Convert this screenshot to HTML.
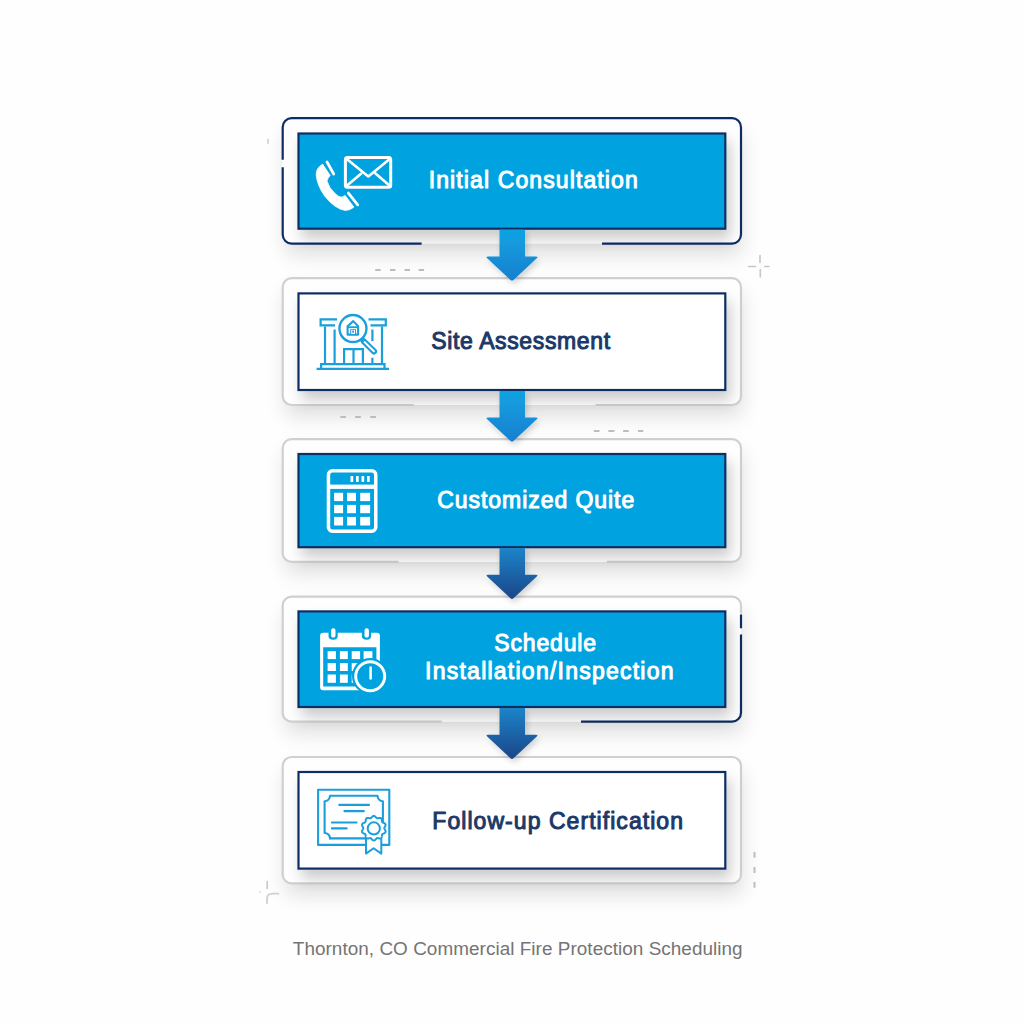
<!DOCTYPE html>
<html><head><meta charset="utf-8">
<style>
html,body{margin:0;padding:0;background:#fefefe;}
svg{display:block;}
text{font-family:"Liberation Sans",sans-serif;}
</style></head>
<body>
<svg width="1024" height="1024" viewBox="0 0 1024 1024">
<defs>
  <filter id="osh" x="-20%" y="-30%" width="140%" height="170%">
    <feGaussianBlur in="SourceAlpha" stdDeviation="10"/>
    <feOffset dx="2" dy="12" result="b"/>
    <feComponentTransfer><feFuncA type="linear" slope="0.12"/></feComponentTransfer>
    <feMerge><feMergeNode/><feMergeNode in="SourceGraphic"/></feMerge>
  </filter>
  <filter id="ish" x="-20%" y="-30%" width="140%" height="190%">
    <feGaussianBlur in="SourceAlpha" stdDeviation="7"/>
    <feOffset dx="4" dy="9" result="b"/>
    <feComponentTransfer><feFuncA type="linear" slope="0.2"/></feComponentTransfer>
    <feMerge><feMergeNode/><feMergeNode in="SourceGraphic"/></feMerge>
  </filter>
  <filter id="ash" x="-50%" y="-30%" width="200%" height="170%">
    <feGaussianBlur in="SourceAlpha" stdDeviation="3"/>
    <feOffset dx="2" dy="3" result="b"/>
    <feComponentTransfer><feFuncA type="linear" slope="0.18"/></feComponentTransfer>
    <feMerge><feMergeNode/><feMergeNode in="SourceGraphic"/></feMerge>
  </filter>
  <linearGradient id="ga1" x1="0" y1="0" x2="0" y2="1">
    <stop offset="0" stop-color="#10a3e2"/><stop offset="1" stop-color="#1a7fcf"/>
  </linearGradient>
  <linearGradient id="ga3" x1="0" y1="0" x2="0" y2="1">
    <stop offset="0" stop-color="#1a84c8"/><stop offset="1" stop-color="#1a4589"/>
  </linearGradient>
</defs>

<!-- ===== outer frames (white bg with shadow) ===== -->
<g filter="url(#osh)" fill="#fefefe">
  <rect x="282.7" y="118.2" width="458.3" height="125.4" rx="9"/>
  <rect x="282.7" y="278.2" width="458.3" height="126.8" rx="9"/>
  <rect x="282.7" y="439.1" width="458.3" height="122.8" rx="9"/>
  <rect x="282.7" y="596.7" width="458.3" height="125" rx="9"/>
  <rect x="282.7" y="757" width="458.3" height="126.4" rx="9"/>
</g>

<!-- ===== outer frame strokes ===== -->
<g fill="none" stroke-width="2.2" stroke-linecap="butt">
  <!-- box1 navy -->
  <path stroke="#0c2d62" d="M282.7 167.2 L282.7 234.6 A9 9 0 0 0 291.7 243.6 L421.6 243.6"/>
  <path stroke="#0c2d62" d="M602 243.6 L732 243.6 A9 9 0 0 0 741 234.6 L741 127.2 A9 9 0 0 0 732 118.2 L291.7 118.2 A9 9 0 0 0 282.7 127.2 L282.7 159.7"/>
  <!-- box2 grey -->
  <path stroke="#d0d0d0" d="M413.8 405 L291.7 405 A9 9 0 0 1 282.7 396 L282.7 287.2 A9 9 0 0 1 291.7 278.2 L732 278.2 A9 9 0 0 1 741 287.2 L741 396 A9 9 0 0 1 732 405 L595.6 405"/>
  <!-- box3 grey -->
  <path stroke="#d0d0d0" d="M398.6 561.9 L291.7 561.9 A9 9 0 0 1 282.7 552.9 L282.7 448.1 A9 9 0 0 1 291.7 439.1 L732 439.1 A9 9 0 0 1 741 448.1 L741 552.9 A9 9 0 0 1 732 561.9 L606.9 561.9"/>
  <!-- box4 grey + navy -->
  <path stroke="#d0d0d0" d="M441.7 721.7 L291.7 721.7 A9 9 0 0 1 282.7 712.7 L282.7 605.7 A9 9 0 0 1 291.7 596.7 L732 596.7 A9 9 0 0 1 741 605.7 L741 613.5"/>
  <path stroke="#0c2d62" d="M741 614.6 L741 628.3 M741 634.5 L741 712.7 A9 9 0 0 1 732 721.7 L581 721.7"/>
  <!-- box5 grey -->
  <rect stroke="#d0d0d0" x="282.7" y="757" width="458.3" height="126.4" rx="9"/>
</g>

<!-- ===== inner boxes ===== -->
<g filter="url(#ish)" stroke="#0c2d62" stroke-width="2.2">
  <rect x="298.5" y="133.5" width="426.8" height="95.2" fill="#04a3df"/>
  <rect x="298.5" y="293.4" width="426.8" height="96.6" fill="#ffffff"/>
  <rect x="298.5" y="454" width="426.8" height="93.2" fill="#04a3df"/>
  <rect x="298.5" y="611.4" width="426.8" height="95.6" fill="#04a3df"/>
  <rect x="298.5" y="772" width="426.8" height="96.6" fill="#ffffff"/>
</g>

<!-- ===== arrows ===== -->
<g filter="url(#ash)">
<path fill="url(#ga1)" d="M499.5 229.7 H525 V256.5 H536 Q538.5 256.5 536.8 258.3 L513.5 280 Q512 281.2 510.5 280 L487.2 258.3 Q485.5 256.5 488 256.5 H499.5 Z"/>
<path fill="url(#ga1)" d="M499.5 391 H525 V417.5 H536 Q538.5 417.5 536.8 419.3 L513.5 441 Q512 442.2 510.5 441 L487.2 419.3 Q485.5 417.5 488 417.5 H499.5 Z"/>
<path fill="url(#ga3)" d="M499.5 548 H525 V574.7 H536 Q538.5 574.7 536.8 576.5 L513.5 598.3 Q512 599.5 510.5 598.3 L487.2 576.5 Q485.5 574.7 488 574.7 H499.5 Z"/>
<path fill="url(#ga3)" d="M499.5 708 H525 V734.7 H536 Q538.5 734.7 536.8 736.5 L513.5 758.3 Q512 759.5 510.5 758.3 L487.2 736.5 Q485.5 734.7 488 734.7 H499.5 Z"/>

</g>

<!-- ===== icon 1: phone + envelope ===== -->
<g fill="#ffffff" stroke="#ffffff" stroke-width="0.8" stroke-linejoin="round">
  <path d="M322.6 164.1 L330.2 175.5 Q328 177.5 327 180.8 Q329 188 334.6 193.1 Q338.5 197.5 341.9 197.2 L345.1 195.4 L353.9 207.1 Q350 210.6 345.1 210.4 Q335 209 324.6 196 Q317 185 316.2 174.9 Q316 168 322.6 164.1 Z"/>
</g>
<g fill="none" stroke="#ffffff" stroke-linecap="round" stroke-linejoin="round">
  <path stroke-width="2.8" d="M327 162 L333.7 174 M348.4 193.1 L357.7 204.8"/>
  <rect stroke-width="3" x="345.4" y="157.4" width="45.3" height="29.8" rx="2"/>
  <path stroke-width="2.6" d="M348 160 L368.3 176.4 L388.5 160 M347 185.5 L361 173.8 M375.5 173.5 L389.5 185.5"/>
</g>

<!-- ===== icon 2: building + magnifier ===== -->
<g fill="none" stroke="#1a9fdc" stroke-width="2.2" stroke-linecap="butt">
  <path d="M337 319.3 H320.6 V325.4 H335"/>
  <path d="M368.5 319.3 H385.8 V325.4 H370.5"/>
  <path d="M325 326.5 V363.5 M334.6 329.6 V363.5 M382 326.5 V363.5 M372.4 329.6 V341 M372.4 357.7 V363.5"/>
  <path d="M344.1 363.5 V349.1 H362.9 V363.5 M353.5 349.1 V363.5"/>
  <path d="M321.1 368.2 V364.1 H384.5 V368.2"/>
  <path d="M316.6 368.8 H389.1"/>
  <circle cx="352.95" cy="328.55" r="13.5" stroke-width="2.4"/>
  <path d="M363.8 341.3 L374.1 351.5" stroke-width="6" stroke-linecap="round"/>
</g>
<path d="M364.6 342.1 L373.9 351.3" stroke="#ffffff" stroke-width="2" stroke-linecap="round"/>
<g fill="none" stroke="#1a9fdc" stroke-width="2.1" stroke-linejoin="round">
  <path d="M353.3 321.1 L347.6 326.2 V334.6 H358.1 V326.2 Z"/>
  <path d="M347.6 327.2 H358.1" stroke-width="1.8"/>
</g>
<path fill="#1a9fdc" d="M350.2 329.2 H356 V334 H350.2 Z"/>
<path fill="#ffffff" d="M351.2 330 H355 V334 H351.2 Z"/>
<path fill="#1a9fdc" d="M352.3 330.4 H354 V332.8 H352.3 Z"/>

<!-- ===== icon 3: calculator ===== -->
<g fill="none" stroke="#ffffff">
  <rect stroke-width="3.5" x="328.45" y="470.75" width="47.3" height="60.5" rx="4"/>
</g>
<g fill="#ffffff">
  <rect x="328.5" y="484.6" width="47" height="4.3"/>
  <rect x="350.5" y="476" width="2.7" height="5.9"/>
  <rect x="356" y="476" width="2.7" height="5.9"/>
  <rect x="361.5" y="476" width="2.7" height="5.9"/>
  <rect x="367" y="476" width="2.7" height="5.9"/>
  <rect x="334.1" y="492.8" width="9" height="8.3"/>
  <rect x="347" y="492.8" width="9" height="8.3"/>
  <rect x="360.2" y="492.8" width="9.9" height="8.3"/>
  <rect x="334.1" y="504.9" width="9" height="8.3"/>
  <rect x="347" y="504.9" width="9" height="8.3"/>
  <rect x="360.2" y="504.9" width="9.9" height="8.3"/>
  <rect x="334.1" y="516.9" width="9" height="8.6"/>
  <rect x="347" y="516.9" width="9" height="8.6"/>
  <rect x="360.2" y="516.9" width="9.9" height="8.6"/>
</g>

<!-- ===== icon 4: calendar + clock ===== -->
<defs>
  <clipPath id="calclip"><path d="M300 620 H400 V700 H300 Z M370.2 676.2 m-18.2 0 a18.2 18.2 0 1 0 36.4 0 a18.2 18.2 0 1 0 -36.4 0 Z" clip-rule="evenodd"/></clipPath>
</defs>
<g clip-path="url(#calclip)" fill="#ffffff">
  <path fill-rule="evenodd" d="M323.1 632.7 H376.9 Q379.9 632.7 379.9 635.7 V690.3 H323.1 Q320.1 690.3 320.1 687.3 V635.7 Q320.1 632.7 323.1 632.7 Z M323.2 647.2 V686.4 H376.4 V647.2 Z"/>
  <rect x="327.6" y="651.2" width="8.3" height="7.9"/>
  <rect x="339.9" y="651.2" width="7.9" height="7.9"/>
  <rect x="351.7" y="651.2" width="8.4" height="7.9"/>
  <rect x="363.6" y="651.2" width="8.8" height="7.9"/>
  <rect x="327.6" y="663.1" width="8.3" height="7.9"/>
  <rect x="339.9" y="663.1" width="7.9" height="7.9"/>
  <rect x="351.7" y="663.1" width="8.4" height="7.9"/>
  <rect x="363.6" y="663.1" width="8.8" height="7.9"/>
  <rect x="327.6" y="674.5" width="8.3" height="8.3"/>
  <rect x="339.9" y="674.5" width="7.9" height="8.3"/>
  <rect x="351.7" y="674.5" width="8.4" height="8.3"/>
  <rect x="363.6" y="674.5" width="8.8" height="8.3"/>
</g>
<g fill="#04a3df">
  <path d="M328.5 632 V636 Q328.5 639.8 333.3 639.8 Q337.7 639.8 337.7 636 V632 Z"/>
  <path d="M361.9 632 V636 Q361.9 639.8 366.7 639.8 Q371.1 639.8 371.1 636 V632 Z"/>
</g>
<g fill="#ffffff">
  <rect x="331.1" y="628.3" width="4.4" height="9.3" rx="2.2"/>
  <rect x="364.5" y="628.3" width="4.4" height="9.3" rx="2.2"/>
</g>
<circle cx="370.2" cy="676.2" r="14.5" fill="none" stroke="#ffffff" stroke-width="3"/>
<path d="M370.6 667.5 V678.4" stroke="#ffffff" stroke-width="2.5" stroke-linecap="round"/>

<!-- ===== icon 5: certificate ===== -->
<g fill="none" stroke="#1a9fdc" stroke-width="2.1" stroke-linecap="round" stroke-linejoin="round">
  <path d="M365.5 844.9 H318.1 V789.8 H389.3 V844.9 H382"/>
  <path d="M330 795.8 H377.5 A5.4 5.4 0 0 0 382.9 801.2 V833 A5.4 5.4 0 0 0 377.5 838.4 H365 M330 838.4 A5.4 5.4 0 0 0 324.6 833 V801.2 A5.4 5.4 0 0 0 330 795.8"/>
  <path d="M330 838.4 H364"/>
  <path d="M339.3 804.9 H369 M344.4 811.1 H363.9 M331.9 822.5 H356.5 M331.9 828.4 H346.7"/>
</g>
<g>
  <path d="M366 838.5 V853.6 L373.6 848.2 L381.3 853.6 V838.5" fill="#ffffff" stroke="#1a9fdc" stroke-width="2" stroke-linejoin="round"/>
  <path fill="#ffffff" stroke="#1a9fdc" stroke-width="2" d="M373.80 815.90 L374.06 815.92 L374.31 815.99 L374.56 816.10 L374.80 816.24 L375.04 816.41 L375.26 816.61 L375.48 816.83 L375.69 817.05 L375.88 817.28 L376.08 817.49 L376.27 817.69 L376.45 817.86 L376.64 818.01 L376.84 818.13 L377.04 818.21 L377.26 818.27 L377.49 818.29 L377.73 818.28 L377.98 818.25 L378.25 818.20 L378.54 818.14 L378.83 818.07 L379.13 818.01 L379.43 817.97 L379.73 817.94 L380.02 817.93 L380.30 817.96 L380.56 818.02 L380.81 818.12 L381.03 818.25 L381.22 818.42 L381.39 818.62 L381.53 818.86 L381.64 819.11 L381.73 819.39 L381.79 819.69 L381.84 819.99 L381.88 820.29 L381.91 820.59 L381.94 820.87 L381.97 821.14 L382.02 821.40 L382.09 821.63 L382.18 821.84 L382.29 822.03 L382.44 822.20 L382.61 822.35 L382.81 822.48 L383.04 822.61 L383.28 822.73 L383.55 822.84 L383.82 822.96 L384.10 823.09 L384.37 823.23 L384.63 823.38 L384.86 823.55 L385.08 823.74 L385.26 823.94 L385.40 824.16 L385.50 824.40 L385.56 824.65 L385.57 824.91 L385.55 825.18 L385.49 825.46 L385.39 825.74 L385.27 826.01 L385.13 826.28 L384.98 826.55 L384.83 826.81 L384.69 827.06 L384.56 827.30 L384.45 827.53 L384.37 827.76 L384.32 827.98 L384.30 828.20 L384.32 828.42 L384.37 828.64 L384.45 828.87 L384.56 829.10 L384.69 829.34 L384.83 829.59 L384.98 829.85 L385.13 830.12 L385.27 830.39 L385.39 830.66 L385.49 830.94 L385.55 831.22 L385.57 831.49 L385.56 831.75 L385.50 832.00 L385.40 832.24 L385.26 832.46 L385.08 832.66 L384.86 832.85 L384.63 833.02 L384.37 833.17 L384.10 833.31 L383.82 833.44 L383.55 833.56 L383.28 833.68 L383.04 833.79 L382.81 833.92 L382.61 834.05 L382.44 834.20 L382.29 834.37 L382.18 834.56 L382.09 834.77 L382.02 835.00 L381.97 835.26 L381.94 835.53 L381.91 835.81 L381.88 836.11 L381.84 836.41 L381.79 836.71 L381.73 837.01 L381.64 837.29 L381.53 837.54 L381.39 837.78 L381.22 837.98 L381.03 838.15 L380.81 838.28 L380.56 838.38 L380.30 838.44 L380.02 838.47 L379.73 838.46 L379.43 838.43 L379.13 838.39 L378.83 838.33 L378.54 838.26 L378.25 838.20 L377.98 838.15 L377.73 838.12 L377.49 838.11 L377.26 838.13 L377.04 838.19 L376.84 838.27 L376.64 838.39 L376.45 838.54 L376.27 838.71 L376.08 838.91 L375.88 839.12 L375.69 839.35 L375.48 839.57 L375.26 839.79 L375.04 839.99 L374.80 840.16 L374.56 840.30 L374.31 840.41 L374.06 840.48 L373.80 840.50 L373.54 840.48 L373.29 840.41 L373.04 840.30 L372.80 840.16 L372.56 839.99 L372.34 839.79 L372.12 839.57 L371.91 839.35 L371.72 839.12 L371.52 838.91 L371.33 838.71 L371.15 838.54 L370.96 838.39 L370.76 838.27 L370.56 838.19 L370.34 838.13 L370.11 838.11 L369.87 838.12 L369.62 838.15 L369.35 838.20 L369.06 838.26 L368.77 838.33 L368.47 838.39 L368.17 838.43 L367.88 838.46 L367.58 838.47 L367.30 838.44 L367.04 838.38 L366.79 838.28 L366.57 838.15 L366.38 837.98 L366.21 837.78 L366.07 837.54 L365.96 837.29 L365.87 837.01 L365.81 836.71 L365.76 836.41 L365.72 836.11 L365.69 835.81 L365.66 835.53 L365.63 835.26 L365.58 835.00 L365.51 834.77 L365.42 834.56 L365.31 834.37 L365.16 834.20 L364.99 834.05 L364.79 833.92 L364.56 833.79 L364.32 833.68 L364.05 833.56 L363.78 833.44 L363.50 833.31 L363.23 833.17 L362.97 833.02 L362.74 832.85 L362.52 832.66 L362.34 832.46 L362.20 832.24 L362.10 832.00 L362.04 831.75 L362.03 831.49 L362.05 831.22 L362.11 830.94 L362.21 830.66 L362.33 830.39 L362.47 830.12 L362.62 829.85 L362.77 829.59 L362.91 829.34 L363.04 829.10 L363.15 828.87 L363.23 828.64 L363.28 828.42 L363.30 828.20 L363.28 827.98 L363.23 827.76 L363.15 827.53 L363.04 827.30 L362.91 827.06 L362.77 826.81 L362.62 826.55 L362.47 826.28 L362.33 826.01 L362.21 825.74 L362.11 825.46 L362.05 825.18 L362.03 824.91 L362.04 824.65 L362.10 824.40 L362.20 824.16 L362.34 823.94 L362.52 823.74 L362.74 823.55 L362.97 823.38 L363.23 823.23 L363.50 823.09 L363.78 822.96 L364.05 822.84 L364.32 822.73 L364.56 822.61 L364.79 822.48 L364.99 822.35 L365.16 822.20 L365.31 822.03 L365.42 821.84 L365.51 821.63 L365.58 821.40 L365.63 821.14 L365.66 820.87 L365.69 820.59 L365.72 820.29 L365.76 819.99 L365.81 819.69 L365.87 819.39 L365.96 819.11 L366.07 818.86 L366.21 818.62 L366.38 818.42 L366.57 818.25 L366.79 818.12 L367.04 818.02 L367.30 817.96 L367.58 817.93 L367.88 817.94 L368.17 817.97 L368.47 818.01 L368.77 818.07 L369.06 818.14 L369.35 818.20 L369.62 818.25 L369.87 818.28 L370.11 818.29 L370.34 818.27 L370.56 818.21 L370.76 818.13 L370.96 818.01 L371.15 817.86 L371.33 817.69 L371.52 817.49 L371.72 817.28 L371.91 817.05 L372.12 816.83 L372.34 816.61 L372.56 816.41 L372.80 816.24 L373.04 816.10 L373.29 815.99 L373.54 815.92 Z"/>
  <circle cx="373.8" cy="828.4" r="6.1" fill="none" stroke="#1a9fdc" stroke-width="2"/>
</g>

<!-- ===== decorations ===== -->
<g fill="#bdbdbd">
  <rect x="375.2" y="269" width="5.5" height="2"/>
  <rect x="390" y="269" width="5.5" height="2"/>
  <rect x="404.5" y="269" width="5.5" height="2"/>
  <rect x="418.6" y="269" width="5.5" height="2"/>
  <rect x="340.3" y="416" width="5.7" height="2"/>
  <rect x="355.1" y="416" width="5.8" height="2"/>
  <rect x="370.2" y="416" width="5.8" height="2"/>
  <rect x="593.9" y="430" width="5.6" height="2"/>
  <rect x="608.4" y="430" width="6" height="2"/>
  <rect x="623.1" y="430" width="5.7" height="2"/>
  <rect x="638" y="430" width="5.3" height="2"/>
  <rect x="753.5" y="851.9" width="2" height="5.8"/>
  <rect x="753.5" y="867" width="2" height="6"/>
  <rect x="753.5" y="882" width="2" height="5.7"/>
</g>
<rect x="267" y="138.8" width="2" height="5" fill="#d8d8d8"/>
<g stroke="#c4c8c8" stroke-width="1.6" fill="none" stroke-linecap="round">
  <path d="M760 255.5 V262.5 M760.3 269.5 V277 M748.5 266.5 H755.5 M764.8 266.5 H769"/>
  <path d="M267.2 881.5 V888.5"/>
  <path d="M267 903.2 V899 Q267 893.7 272.3 893.7 H278.4" stroke="#d0d0d0" stroke-width="1.8"/>
</g>
<rect x="259.3" y="891.2" width="1.5" height="1.5" fill="#d5d5d5"/>

<!-- ===== texts ===== -->
<g font-size="23" stroke-width="1.0" stroke-linejoin="round">
  <text x="428.7" y="188.3" fill="#ffffff" stroke="#ffffff" textLength="209.1">Initial Consultation</text>
  <text x="431.2" y="349.3" fill="#1c3867" stroke="#1c3867" textLength="178.9">Site Assessment</text>
  <text x="437.3" y="507.5" fill="#ffffff" stroke="#ffffff" textLength="196.9">Customized Quite</text>
  <text x="494.3" y="651.2" fill="#ffffff" stroke="#ffffff" textLength="101.8">Schedule</text>
  <text x="425.1" y="678.8" fill="#ffffff" stroke="#ffffff" textLength="248.4">Installation/Inspection</text>
  <text x="432.3" y="828.5" fill="#1c3867" stroke="#1c3867" textLength="250.7">Follow-up Certification</text>
</g>
<text x="292.8" y="955.4" font-size="18.9" fill="#747474" textLength="449.8">Thornton, CO Commercial Fire Protection Scheduling</text>

</svg>
</body></html>
